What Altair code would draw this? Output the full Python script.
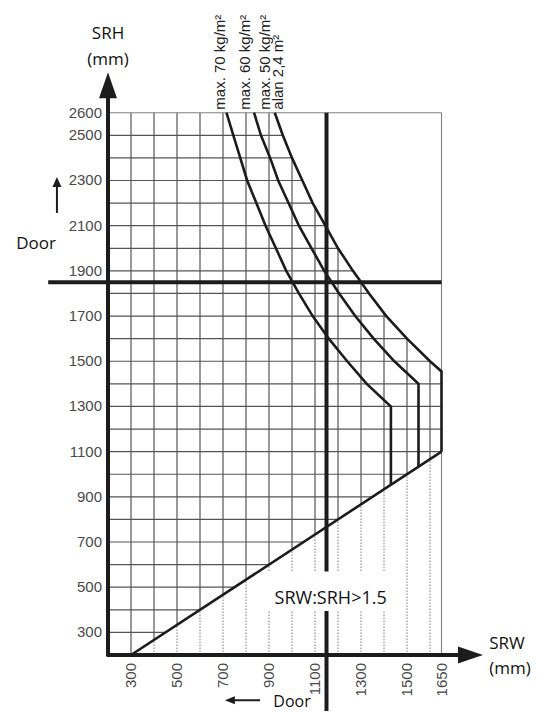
import altair as alt
import pandas as pd

# ---------------- data ----------------
X_TICKS = [300, 500, 700, 900, 1100, 1300, 1500, 1650]
Y_TICKS = [2600, 2500, 2300, 2100, 1900, 1700, 1500, 1300, 1100, 900, 700, 500, 300]

# vertical grid lines (solid part: from the 1.5 diagonal up to the 2.4 m2 curve)
GRID_X = [300, 400, 500, 600, 700, 800, 900, 1000, 1100, 1200, 1300, 1400, 1500, 1600]
GRID_X_TOP = [2600, 2600, 2600, 2600, 2600, 2600, 2600, 2400, 2180, 2000, 1845, 1715, 1600, 1500]
GRID_X_BOTTOM = [200, 267, 333, 400, 467, 533, 600, 667, 733, 800, 867, 933, 1000, 1067]

# horizontal grid lines (from the SRH axis to the diagonal / curve)
GRID_Y = [300, 400, 500, 600, 700, 800, 900, 1000, 1100, 1200, 1300, 1400,
          1500, 1600, 1700, 1800, 1900, 2000, 2100, 2200, 2300, 2400, 2500]
GRID_Y_RIGHT = [450, 600, 750, 900, 1050, 1200, 1350, 1500, 1650, 1650, 1650, 1650,
                1600, 1500, 1410, 1335, 1265, 1200, 1145, 1090, 1045, 1000, 960]

# limit curves
C70_SRH = [2600, 2500, 2400, 2300, 2200, 2100, 2000, 1900, 1800, 1700, 1600, 1500, 1400, 1300, 955]
C70_SRW = [715, 745, 775, 805, 845, 885, 930, 975, 1030, 1090, 1160, 1240, 1325, 1430, 1430]
C60_SRH = [2600, 2500, 2400, 2300, 2200, 2100, 2000, 1900, 1800, 1700, 1600, 1500, 1400, 1035]
C60_SRW = [835, 865, 905, 940, 985, 1030, 1085, 1140, 1205, 1275, 1355, 1445, 1550, 1550]
C50_SRH = [2600, 2500, 2400, 2300, 2200, 2100, 2000, 1900, 1800, 1700, 1600, 1500, 1455, 1100]
C50_SRW = [925, 960, 1000, 1045, 1090, 1145, 1200, 1265, 1335, 1410, 1500, 1600, 1650, 1650]

DIAG_SRW = [300, 1650]
DIAG_SRH = [200, 1100]

DOOR_SRW = 1150
DOOR_SRH = 1850
DOOR_START = -60

XMIN, XMAX = 200, 1650
YMIN, YMAX = 200, 2600

# ---------------- tables ----------------
vgrid = pd.DataFrame({"x": GRID_X, "y": GRID_X_TOP, "y2": GRID_X_BOTTOM})
dgrid = pd.DataFrame({"x": GRID_X[1:], "y": [YMIN] * (len(GRID_X) - 1), "y2": GRID_X_BOTTOM[1:]})
hgrid = pd.DataFrame({"y": GRID_Y, "x": [XMIN] * len(GRID_Y), "x2": GRID_Y_RIGHT})
box_h = pd.DataFrame({"y": [YMAX], "x": [XMIN], "x2": [XMAX]})
box_v = pd.DataFrame({"x": [XMAX], "y": [YMIN], "y2": [YMAX]})

curves = pd.concat([
    pd.DataFrame({"s": "70", "x": C70_SRW, "y": C70_SRH, "o": range(len(C70_SRW))}),
    pd.DataFrame({"s": "60", "x": C60_SRW, "y": C60_SRH, "o": range(len(C60_SRW))}),
    pd.DataFrame({"s": "50", "x": C50_SRW, "y": C50_SRH, "o": range(len(C50_SRW))}),
    pd.DataFrame({"s": "diag", "x": DIAG_SRW, "y": DIAG_SRH, "o": range(2)}),
])

door_v = pd.DataFrame({"x": [DOOR_SRW], "y": [DOOR_START], "y2": [YMAX]})
door_h = pd.DataFrame({"y": [DOOR_SRH], "x": [DOOR_START], "x2": [XMAX]})

axis_v = pd.DataFrame({"x": [XMIN], "y": [YMIN - 6], "y2": [2670]})
axis_h = pd.DataFrame({"y": [YMIN], "x": [XMIN - 6], "x2": [1735]})
arrow_up = pd.DataFrame({"x": [XMIN], "y": [2722]})
arrow_right = pd.DataFrame({"x": [1776], "y": [YMIN]})

small_v = pd.DataFrame({"x": [-22], "y": [2156], "y2": [2295]})
small_up = pd.DataFrame({"x": [-22], "y": [2293]})
small_h = pd.DataFrame({"y": [0], "x": [861], "x2": [725]})
small_left = pd.DataFrame({"x": [730], "y": [0]})

ratio_box = pd.DataFrame({"x": [870], "x2": [1460], "y": [395], "y2": [570]})

x_tick_df = pd.DataFrame({"x": X_TICKS, "y": [YMIN] * len(X_TICKS), "t": [str(v) for v in X_TICKS]})
y_tick_df = pd.DataFrame({"x": [XMIN] * len(Y_TICKS), "y": Y_TICKS, "t": [str(v) for v in Y_TICKS]})

titles = pd.DataFrame({
    "t": ["SRH", "(mm)", "Door", "SRW", "(mm)"],
    "x": [200, 200, -113, 1935, 1948],
    "y": [2948, 2832, 2018, 250, 136],
})
door_bottom = pd.DataFrame({"t": ["Door"], "x": [1000], "y": [-10]})
ratio_label = pd.DataFrame({"t": ["SRW:SRH>1.5"], "x": [1168], "y": [450]})
curve_labels = pd.DataFrame({
    "t": ["max. 70 kg/m²", "max. 60 kg/m²", "max. 50 kg/m²", "alan 2,4 m²"],
    "x": [687, 796, 881, 938],
    "y": [YMAX] * 4,
})

# ---------------- encodings ----------------
XS = alt.Scale(domain=[XMIN, XMAX], nice=False, zero=False)
YS = alt.Scale(domain=[YMIN, YMAX], nice=False, zero=False)


def ex(f="x"):
    return alt.X(f, type="quantitative", scale=XS, axis=None, title=None)


def ey(f="y"):
    return alt.Y(f, type="quantitative", scale=YS, axis=None, title=None)


GRID_COL = "#555555"
DARK = "#1c1c1c"

layers = []
layers.append(alt.Chart(vgrid).mark_rule(color=GRID_COL, strokeWidth=1.2).encode(
    x=ex("x"), y=ey("y"), y2="y2"))
layers.append(alt.Chart(hgrid).mark_rule(color=GRID_COL, strokeWidth=1.2).encode(
    y=ey("y"), x=ex("x"), x2="x2"))
layers.append(alt.Chart(dgrid).mark_rule(color="#7a7a7a", strokeWidth=1, strokeDash=[1.5, 1.5]).encode(
    x=ex("x"), y=ey("y"), y2="y2"))
layers.append(alt.Chart(box_h).mark_rule(color="#808080", strokeWidth=1.1).encode(
    y=ey("y"), x=ex("x"), x2="x2"))
layers.append(alt.Chart(box_v).mark_rule(color="#808080", strokeWidth=1.1).encode(
    x=ex("x"), y=ey("y"), y2="y2"))
layers.append(alt.Chart(curves).mark_line(color=DARK, strokeWidth=2.6, strokeJoin="miter").encode(
    x=ex("x"), y=ey("y"), detail="s:N", order="o:Q"))
layers.append(alt.Chart(door_v).mark_rule(color=DARK, strokeWidth=4).encode(
    x=ex("x"), y=ey("y"), y2="y2"))
layers.append(alt.Chart(door_h).mark_rule(color=DARK, strokeWidth=4).encode(
    y=ey("y"), x=ex("x"), x2="x2"))
layers.append(alt.Chart(axis_v).mark_rule(color=DARK, strokeWidth=4).encode(
    x=ex("x"), y=ey("y"), y2="y2"))
layers.append(alt.Chart(axis_h).mark_rule(color=DARK, strokeWidth=4).encode(
    y=ey("y"), x=ex("x"), x2="x2"))
layers.append(alt.Chart(arrow_up).mark_point(
    shape="M -0.69 1 L 0 -1 L 0.69 1 Z", size=676, filled=True, opacity=1, color=DARK).encode(
    x=ex("x"), y=ey("y")))
layers.append(alt.Chart(arrow_right).mark_point(
    shape="M -1 -0.68 L 1 0 L -1 0.68 Z", size=625, filled=True, opacity=1, color=DARK).encode(
    x=ex("x"), y=ey("y")))
layers.append(alt.Chart(small_v).mark_rule(color=DARK, strokeWidth=2).encode(
    x=ex("x"), y=ey("y"), y2="y2"))
layers.append(alt.Chart(small_up).mark_point(
    shape="M -0.9 1 L 0 -1 L 0.9 1 Z", size=100, filled=True, opacity=1, color=DARK).encode(
    x=ex("x"), y=ey("y")))
layers.append(alt.Chart(small_h).mark_rule(color=DARK, strokeWidth=2).encode(
    y=ey("y"), x=ex("x"), x2="x2"))
layers.append(alt.Chart(small_left).mark_point(
    shape="M 1 -0.8 L -1 0 L 1 0.8 Z", size=100, filled=True, opacity=1, color=DARK).encode(
    x=ex("x"), y=ey("y")))
layers.append(alt.Chart(ratio_box).mark_rect(color="white", opacity=1).encode(
    x=ex("x"), x2="x2", y=ey("y"), y2="y2"))

# tick labels (through the shared scales)
layers.append(alt.Chart(y_tick_df).mark_text(font="Liberation Sans", fontSize=15, color="#4a4a4a",
                                             align="right", baseline="middle", dx=-6).encode(
    x=ex("x"), y=ey("y"), text="t:N"))
layers.append(alt.Chart(x_tick_df).mark_text(font="Liberation Sans", fontSize=15, color="#4a4a4a",
                                             align="right", baseline="middle", angle=270, dx=-8).encode(
    x=ex("x"), y=ey("y"), text="t:N"))

layers.append(alt.Chart(titles).mark_text(font="Open Sans", fontSize=17, color="#111111",
                                          align="center", baseline="middle").encode(
    x=ex("x"), y=ey("y"), text="t:N"))
layers.append(alt.Chart(door_bottom).mark_text(font="Open Sans", fontSize=16, color="#111111",
                                               align="center", baseline="middle").encode(
    x=ex("x"), y=ey("y"), text="t:N"))
layers.append(alt.Chart(ratio_label).mark_text(font="Open Sans", fontSize=18, color="#111111",
                                               align="center", baseline="middle").encode(
    x=ex("x"), y=ey("y"), text="t:N"))
layers.append(alt.Chart(curve_labels).mark_text(font="Liberation Sans", fontSize=15, color="#222222",
                                                align="left", baseline="middle", angle=270, dx=3).encode(
    x=ex("x"), y=ey("y"), text="t:N"))

chart = alt.layer(*layers).properties(
    width=333.5,
    height=542.3,
    autosize=alt.AutoSizeParams(type="none"),
    padding={"left": 100, "top": 104.7, "right": 91, "bottom": 56},
).configure_view(stroke=None)

chart.save("out.html", embed_options={"renderer": "svg", "actions": False})
